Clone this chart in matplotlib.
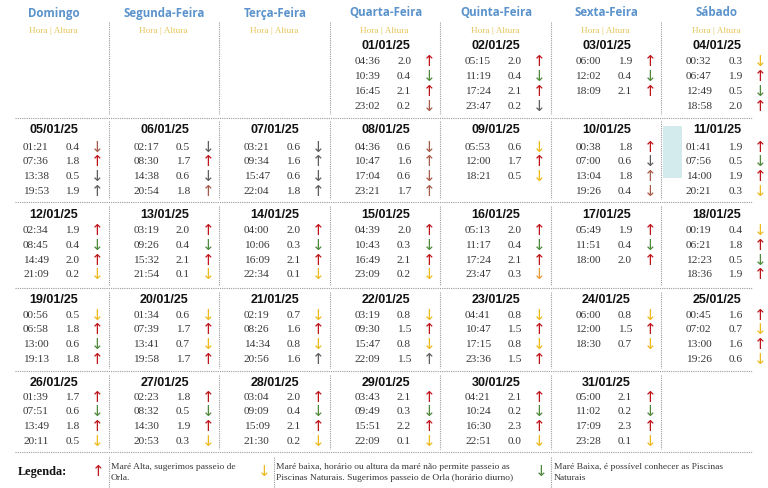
import matplotlib
matplotlib.use("Agg")
import matplotlib.pyplot as plt
from matplotlib.patches import Rectangle

# ---------------- data ----------------
weekdays = ["Domingo", "Segunda-Feira", "Terça-Feira", "Quarta-Feira",
            "Quinta-Feira", "Sexta-Feira", "Sábado"]
month_label = "01/25"
first_weekday = 3  # 01/01/25 is a Wednesday

times = [
    ["04:36", "10:39", "16:45", "23:02"], ["05:15", "11:19", "17:24", "23:47"],
    ["06:00", "12:02", "18:09"], ["00:32", "06:47", "12:49", "18:58"],
    ["01:21", "07:36", "13:38", "19:53"], ["02:17", "08:30", "14:38", "20:54"],
    ["03:21", "09:34", "15:47", "22:04"], ["04:36", "10:47", "17:04", "23:21"],
    ["05:53", "12:00", "18:21"], ["00:38", "07:00", "13:04", "19:26"],
    ["01:41", "07:56", "14:00", "20:21"], ["02:34", "08:45", "14:49", "21:09"],
    ["03:19", "09:26", "15:32", "21:54"], ["04:00", "10:06", "16:09", "22:34"],
    ["04:39", "10:43", "16:49", "23:09"], ["05:13", "11:17", "17:24", "23:47"],
    ["05:49", "11:51", "18:00"], ["00:19", "06:21", "12:23", "18:36"],
    ["00:56", "06:58", "13:00", "19:13"], ["01:34", "07:39", "13:41", "19:58"],
    ["02:19", "08:26", "14:34", "20:56"], ["03:19", "09:30", "15:47", "22:09"],
    ["04:41", "10:47", "17:15", "23:36"], ["06:00", "12:00", "18:30"],
    ["00:45", "07:02", "13:00", "19:26"], ["01:39", "07:51", "13:49", "20:11"],
    ["02:23", "08:32", "14:30", "20:53"], ["03:04", "09:09", "15:09", "21:30"],
    ["03:43", "09:49", "15:51", "22:09"], ["04:21", "10:24", "16:30", "22:51"],
    ["05:00", "11:02", "17:09", "23:28"],
]
heights = [
    [2.0, 0.4, 2.1, 0.2], [2.0, 0.4, 2.1, 0.2], [1.9, 0.4, 2.1], [0.3, 1.9, 0.5, 2.0],
    [0.4, 1.8, 0.5, 1.9], [0.5, 1.7, 0.6, 1.8], [0.6, 1.6, 0.6, 1.8], [0.6, 1.6, 0.6, 1.7],
    [0.6, 1.7, 0.5], [1.8, 0.6, 1.8, 0.4], [1.9, 0.5, 1.9, 0.3], [1.9, 0.4, 2.0, 0.2],
    [2.0, 0.4, 2.1, 0.1], [2.0, 0.3, 2.1, 0.1], [2.0, 0.3, 2.1, 0.2], [2.0, 0.4, 2.1, 0.3],
    [1.9, 0.4, 2.0], [0.4, 1.8, 0.5, 1.9], [0.5, 1.8, 0.6, 1.8], [0.6, 1.7, 0.7, 1.7],
    [0.7, 1.6, 0.8, 1.6], [0.8, 1.5, 0.8, 1.5], [0.8, 1.5, 0.8, 1.5], [0.8, 1.5, 0.7],
    [1.6, 0.7, 1.6, 0.6], [1.7, 0.6, 1.8, 0.5], [1.8, 0.5, 1.9, 0.3], [2.0, 0.4, 2.1, 0.2],
    [2.1, 0.3, 2.2, 0.1], [2.1, 0.2, 2.3, 0.0], [2.1, 0.2, 2.3, 0.1],
]
# u = up arrow, d = down arrow
directions = [
    "udud", "udud", "udu", "dudu", "dudu", "dudu", "dudu", "dudu", "dud", "udud",
    "udud", "udud", "udud", "udud", "udud", "udud", "udu", "dudu", "dudu", "dudu",
    "dudu", "dudu", "dudu", "dud", "udud", "udud", "udud", "udud", "udud", "udud", "udud",
]
# R red (high), G green (low, pools), Y yellow (low, no pools), B brownish, K grey, O orange
arrow_colors = [
    "RGRB", "RGRK", "RGR", "YRGR", "BRKK", "KRKB", "KKKK", "BBBB", "YRY", "RKBB",
    "RGRY", "RGRY", "RGRY", "RGRY", "RGRY", "RGRO", "RGR", "YRGR", "YRGR", "YRYR",
    "YRYK", "YRYK", "YRYR", "YRY", "RYRY", "RGRY", "RGRY", "RGRY", "RGRY", "RGRY", "RGRY",
]
legend_items = [
    ("u", "R", "Maré Alta, sugerimos passeio de\nOrla."),
    ("d", "Y", "Maré baixa, horário ou altura da maré não permite passeio as\n"
               "Piscinas Naturais. Sugerimos passeio de Orla (horário diurno)"),
    ("d", "G", "Maré Baixa, é possível conhecer as Piscinas\nNaturais"),
]

# ---------------- style ----------------
palette = {"R": "#C0141B", "G": "#4F8A3C", "Y": "#EDB91C", "B": "#A85A48",
           "K": "#5E5E5E", "O": "#E79A3A"}
arrow_glyph = {"u": "\u2191", "d": "\u2193"}
header_blue = "#5B93CC"
gold = "#E6C55A"
txt = "#383838"
line_col = "#9A9A9A"

W, H = 768, 488
fig = plt.figure(figsize=(W / 100, H / 100), dpi=100)
ax = fig.add_axes([0, 0, 1, 1])
ax.set_xlim(0, W)
ax.set_ylim(H, 0)
ax.axis("off")

col_left = [-2, 108.5, 219, 329.5, 440, 550.5, 661]
date_y = [46, 130, 215, 300, 383]
entry_y0 = [62, 147, 230.5, 315, 397]
step = 14.8
hlines = [117.5, 202, 288, 371, 452]
row_span = [(22, 114), (121, 199), (206, 285), (292, 368), (375, 449)]

# headers
for c, name in enumerate(weekdays):
    ax.text(col_left[c] + 56, 13, name, ha="center", va="center",
            fontsize=8.3, fontweight="bold", color=header_blue, family="Open Sans")
    ax.text(col_left[c] + 55, 31, "Hora | Altura", ha="center", va="center",
            fontsize=6.7, color=gold, family="Liberation Serif")

# horizontal dotted lines
for yl in hlines:
    ax.plot([15, 752], [yl, yl], ls=(0, (1, 1)), lw=0.8, color=line_col)

# vertical separators
for r, (y0, y1) in enumerate(row_span):
    for c in range(1, 7):
        ax.plot([col_left[c], col_left[c]], [y0, y1], ls=(0, (1, 1)), lw=0.8, color=line_col)

# day cells
for i in range(len(times)):
    idx = i + first_weekday
    r, c = idx // 7, idx % 7
    x0 = col_left[c]
    ax.text(x0 + 56, date_y[r], f"{i + 1:02d}/{month_label}", ha="center", va="center",
            fontsize=9, fontweight="bold", color="#111111", family="Liberation Sans")
    for k, (t, h) in enumerate(zip(times[i], heights[i])):
        y = entry_y0[r] + k * step
        ax.text(x0 + 25, y, t, ha="left", va="center", fontsize=8.2,
                color=txt, family="Liberation Serif")
        ax.text(x0 + 74.5, y, f"{h:.1f}", ha="center", va="center", fontsize=8.2,
                color=txt, family="Liberation Serif")
        ax.text(x0 + 99.5, y, arrow_glyph[directions[i][k]], ha="center", va="center",
                fontsize=11, color=palette[arrow_colors[i][k]], family="DejaVu Sans")

# pale cyan smudge in the reference (cell 11/01)
ax.add_patch(Rectangle((663, 126), 19, 52, color="#CDE8EC", alpha=0.85, lw=0, zorder=0))

# legend
ax.text(18, 472, "Legenda:", ha="left", va="center", fontsize=8.8,
        fontweight="bold", color="#111111", family="Liberation Serif")
leg_x = [108.5, 274, 551]
for (d, col, label), lx in zip(legend_items, leg_x):
    ax.text(lx - 10, 472, arrow_glyph[d], ha="center", va="center", fontsize=11,
            color=palette[col], family="DejaVu Sans")
    ax.plot([lx, lx], [457, 488], ls=(0, (1, 1)), lw=0.8, color=line_col)
    ax.text(lx + 2.5, 472.5, label, ha="left", va="center", fontsize=6.8,
            color=txt, family="Liberation Serif", linespacing=1.45)

fig.savefig("out.png", dpi=100)
